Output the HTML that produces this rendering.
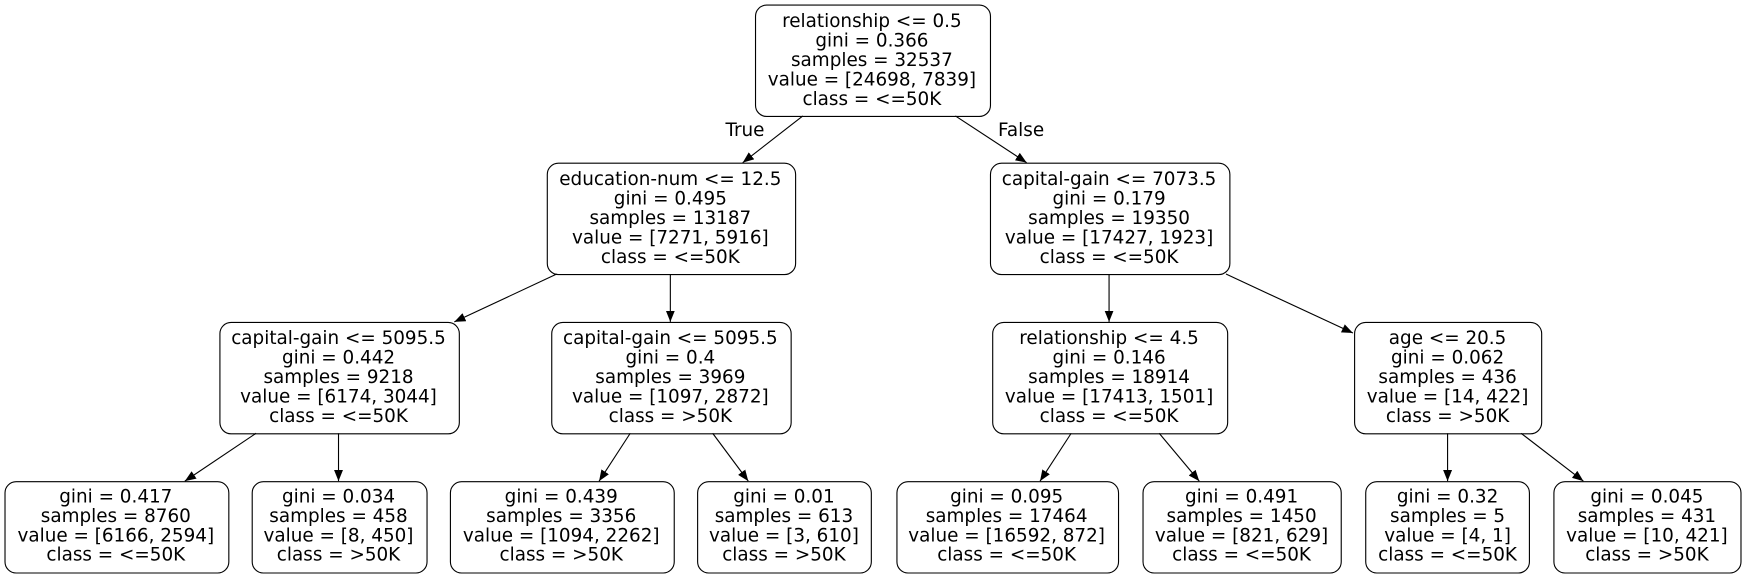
<!DOCTYPE html>
<html><head><meta charset="utf-8"><style>html,body{margin:0;padding:0;background:#fff}svg{display:block}</style></head><body>
<svg width="1746" height="577" viewBox="0 0 1568 518" xmlns="http://www.w3.org/2000/svg" font-family="'DejaVu Sans','Liberation Sans',sans-serif" font-size="16.5">
<defs><marker id="a" markerWidth="10" markerHeight="8" refX="10" refY="4" orient="auto" markerUnits="userSpaceOnUse"><path d="M0,0 L10,4 L0,8 z" fill="#000"/></marker></defs>
<g fill="none" stroke="#000" stroke-width="1">
<rect x="678.5" y="4.5" width="211" height="100" rx="10"/>
<rect x="491.5" y="146.5" width="223" height="100" rx="10"/>
<rect x="889.5" y="146.5" width="215" height="100" rx="10"/>
<rect x="197.5" y="289.5" width="215" height="100" rx="10"/>
<rect x="495.5" y="289.5" width="215" height="100" rx="10"/>
<rect x="891.5" y="289.5" width="211" height="100" rx="10"/>
<rect x="1216.5" y="289.5" width="168" height="100" rx="10"/>
<rect x="4.5" y="432.5" width="201" height="82" rx="10"/>
<rect x="226.5" y="432.5" width="157" height="82" rx="10"/>
<rect x="404.5" y="432.5" width="201" height="82" rx="10"/>
<rect x="626.5" y="432.5" width="156" height="82" rx="10"/>
<rect x="805.5" y="432.5" width="199" height="82" rx="10"/>
<rect x="1026.5" y="432.5" width="178" height="82" rx="10"/>
<rect x="1226.5" y="432.5" width="147" height="82" rx="10"/>
<rect x="1395.5" y="432.5" width="168" height="82" rx="10"/>
<g marker-end="url(#a)">
<line x1="721" y1="104" x2="667" y2="146"/>
<line x1="858" y1="104" x2="922" y2="146"/>
<line x1="500" y1="246" x2="408" y2="289"/>
<line x1="602" y1="246" x2="602" y2="289"/>
<line x1="996" y1="246" x2="996" y2="289"/>
<line x1="1101" y1="246" x2="1215" y2="299"/>
<line x1="230" y1="389" x2="166" y2="432"/>
<line x1="304" y1="389" x2="304" y2="432"/>
<line x1="566" y1="389" x2="538" y2="432"/>
<line x1="640" y1="389" x2="672" y2="432"/>
<line x1="962" y1="389" x2="934" y2="432"/>
<line x1="1041" y1="389" x2="1077" y2="432"/>
<line x1="1300" y1="389" x2="1300" y2="432"/>
<line x1="1366" y1="389" x2="1422" y2="432"/>
</g></g>
<g text-anchor="middle" fill="#000">
<text x="669" y="122">True</text><text x="917" y="122">False</text>
<g transform="translate(783,24)"><text y="0">relationship &lt;= 0.5</text><text y="17.5">gini = 0.366</text><text y="35">samples = 32537</text><text y="52.5">value = [24698, 7839]</text><text y="70">class = &lt;=50K</text></g>
<g transform="translate(602,166)"><text y="0">education-num &lt;= 12.5</text><text y="17.5">gini = 0.495</text><text y="35">samples = 13187</text><text y="52.5">value = [7271, 5916]</text><text y="70">class = &lt;=50K</text></g>
<g transform="translate(996,166)"><text y="0">capital-gain &lt;= 7073.5</text><text y="17.5">gini = 0.179</text><text y="35">samples = 19350</text><text y="52.5">value = [17427, 1923]</text><text y="70">class = &lt;=50K</text></g>
<g transform="translate(304,309)"><text y="0">capital-gain &lt;= 5095.5</text><text y="17.5">gini = 0.442</text><text y="35">samples = 9218</text><text y="52.5">value = [6174, 3044]</text><text y="70">class = &lt;=50K</text></g>
<g transform="translate(602,309)"><text y="0">capital-gain &lt;= 5095.5</text><text y="17.5">gini = 0.4</text><text y="35">samples = 3969</text><text y="52.5">value = [1097, 2872]</text><text y="70">class = &gt;50K</text></g>
<g transform="translate(996,309)"><text y="0">relationship &lt;= 4.5</text><text y="17.5">gini = 0.146</text><text y="35">samples = 18914</text><text y="52.5">value = [17413, 1501]</text><text y="70">class = &lt;=50K</text></g>
<g transform="translate(1300,309)"><text y="0">age &lt;= 20.5</text><text y="17.5">gini = 0.062</text><text y="35">samples = 436</text><text y="52.5">value = [14, 422]</text><text y="70">class = &gt;50K</text></g>
<g transform="translate(104,451)"><text y="0">gini = 0.417</text><text y="17.5">samples = 8760</text><text y="35">value = [6166, 2594]</text><text y="52.5">class = &lt;=50K</text></g>
<g transform="translate(304,451)"><text y="0">gini = 0.034</text><text y="17.5">samples = 458</text><text y="35">value = [8, 450]</text><text y="52.5">class = &gt;50K</text></g>
<g transform="translate(504,451)"><text y="0">gini = 0.439</text><text y="17.5">samples = 3356</text><text y="35">value = [1094, 2262]</text><text y="52.5">class = &gt;50K</text></g>
<g transform="translate(704,451)"><text y="0">gini = 0.01</text><text y="17.5">samples = 613</text><text y="35">value = [3, 610]</text><text y="52.5">class = &gt;50K</text></g>
<g transform="translate(904,451)"><text y="0">gini = 0.095</text><text y="17.5">samples = 17464</text><text y="35">value = [16592, 872]</text><text y="52.5">class = &lt;=50K</text></g>
<g transform="translate(1115,451)"><text y="0">gini = 0.491</text><text y="17.5">samples = 1450</text><text y="35">value = [821, 629]</text><text y="52.5">class = &lt;=50K</text></g>
<g transform="translate(1300,451)"><text y="0">gini = 0.32</text><text y="17.5">samples = 5</text><text y="35">value = [4, 1]</text><text y="52.5">class = &lt;=50K</text></g>
<g transform="translate(1479,451)"><text y="0">gini = 0.045</text><text y="17.5">samples = 431</text><text y="35">value = [10, 421]</text><text y="52.5">class = &gt;50K</text></g>
</g>
</svg>
</body></html>
